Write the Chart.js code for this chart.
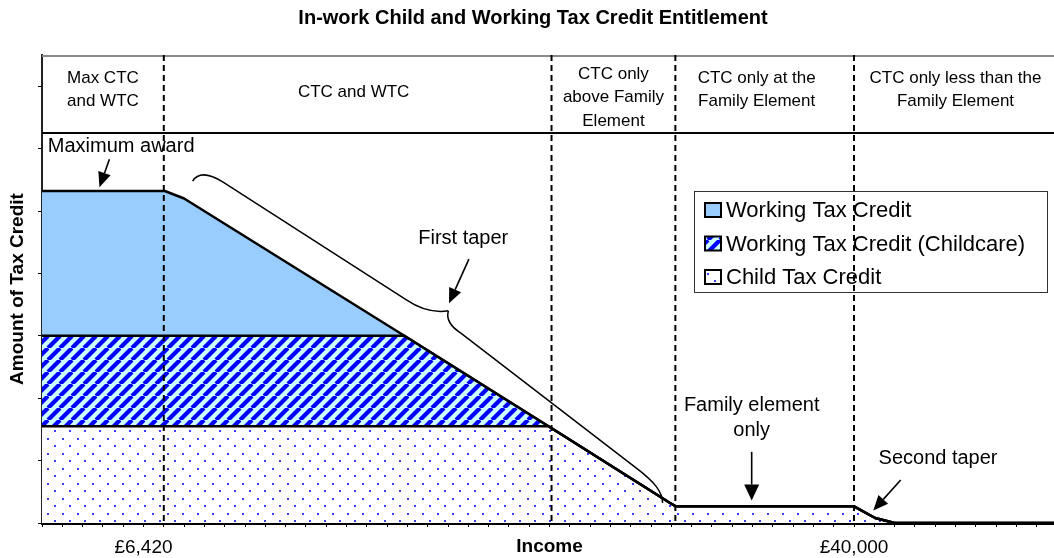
<!DOCTYPE html>
<html>
<head>
<meta charset="utf-8">
<script src="https://cdn.jsdelivr.net/npm/chart.js@4.4.0/dist/chart.umd.min.js"></script>
<style>
	html, body { margin: 0; padding: 0; overflow: hidden; background: #fff; }
	#wrap { width: 1066px; height: 558px; }
</style>
</head>
<body>
<div id="wrap"><canvas id="Chart1" width="1066" height="558"></canvas></div>
<script>
// income axis runs in tick steps, one step per tick mark
const incomePoints     = [0, 6.05, 7.0, 17.85, 24.95, 30.94, 31.2, 39.98, 41.04, 42.0, 50];
const childTaxCredit   = [1.55, 1.55, 1.55, 1.55, 1.55, 0.32, 0.27, 0.27, 0.08, 0, 0];
const childcareCredit  = [1.45, 1.45, 1.45, 1.45, 0, 0, 0, 0, 0, 0, 0];
const workingTaxCredit = [2.32, 2.32, 2.2, 0, 0, 0, 0, 0, 0, 0, 0];

const bandEdges = [0, 6, 25.1, 31.2, 40, 50];
const bandLabels = [
	['Max CTC', 'and WTC'],
	['CTC and WTC'],
	['CTC only', 'above Family', 'Element'],
	['CTC only at the', 'Family Element'],
	['CTC only less than the', 'Family Element']
];
const headerLevel = 6.25;

const xTickPositions = [5, 40];
const xTickLabels = ['£6,420', '£40,000'];

const FONT = "'Liberation Sans', Arial, sans-serif";

const toPoints = vals => incomePoints.map((x, i) => ({ x: x, y: vals[i] }));

// fill patterns
const stripePattern = (() => {
	const c = document.createElement('canvas');
	c.width = 12; c.height = 12;
	const g = c.getContext('2d');
	g.fillStyle = '#ccffff';
	g.fillRect(0, 0, 12, 12);
	g.strokeStyle = '#0000ff';
	g.lineWidth = 4.2;
	[-12, 0, 12].forEach(o => {
		g.beginPath();
		g.moveTo(o, 12);
		g.lineTo(o + 12, 0);
		g.stroke();
	});
	return g.createPattern(c, 'repeat');
})();

const dotPattern = (() => {
	const c = document.createElement('canvas');
	c.width = 15; c.height = 15;
	const g = c.getContext('2d');
	g.fillStyle = '#ffffff';
	g.fillRect(0, 0, 15, 15);
	g.fillStyle = '#3c3cff';
	g.fillRect(2, 3, 2, 2);
	g.fillRect(9, 10, 2, 2);
	return g.createPattern(c, 'repeat');
})();

const drawArrow = (ctx, x1, y1, x2, y2, len, half) => {
	const a = Math.atan2(y2 - y1, x2 - x1);
	const bx = x2 - Math.cos(a) * len, by = y2 - Math.sin(a) * len;
	ctx.beginPath();
	ctx.moveTo(x1, y1);
	ctx.lineTo(bx, by);
	ctx.stroke();
	ctx.beginPath();
	ctx.moveTo(x2, y2);
	ctx.lineTo(bx + Math.sin(a) * half, by - Math.cos(a) * half);
	ctx.lineTo(bx - Math.sin(a) * half, by + Math.cos(a) * half);
	ctx.closePath();
	ctx.fill();
};

const overlay = {
	id: 'overlay',
	afterDatasetsDraw(chart) {
		const { ctx, chartArea: area, scales: { x, y } } = chart;
		const px = v => x.getPixelForValue(v);
		const py = v => y.getPixelForValue(v);
		const hLine = (x1, y1, x2, y2) => { ctx.beginPath(); ctx.moveTo(x1, y1); ctx.lineTo(x2, y2); ctx.stroke(); };
		ctx.save();

		// plot border top and header rule
		ctx.strokeStyle = '#8a8a8a';
		ctx.lineWidth = 2;
		hLine(area.left, area.top + 1, area.right, area.top + 1);
		ctx.strokeStyle = '#000';
		hLine(area.left, py(headerLevel), area.right, py(headerLevel));

		// legend
		const lx = 694, ly = 191, lw = 353, lh = 101;
		ctx.fillStyle = '#fff';
		ctx.fillRect(lx, ly, lw, lh);
		ctx.strokeStyle = '#333';
		ctx.lineWidth = 1;
		ctx.strokeRect(lx + 0.5, ly + 0.5, lw, lh);
		const items = [
			['Working Tax Credit', '#99ccff'],
			['Working Tax Credit (Childcare)', stripePattern],
			['Child Tax Credit', dotPattern]
		];
		ctx.font = '22px ' + FONT;
		ctx.textBaseline = 'middle';
		ctx.textAlign = 'left';
		items.forEach((it, i) => {
			const cy = 210 + i * 33.5;
			ctx.fillStyle = it[1];
			ctx.fillRect(705, cy - 7, 16, 14);
			ctx.strokeStyle = '#000';
			ctx.lineWidth = 2;
			ctx.strokeRect(705, cy - 7, 16, 14);
			ctx.fillStyle = '#000';
			ctx.fillText(it[0], 726, cy + 1);
		});

		// band dividers
		ctx.strokeStyle = '#000';
		ctx.lineWidth = 2;
		ctx.setLineDash([6, 4]);
		bandEdges.slice(1, -1).forEach(b => hLine(px(b), area.top, px(b), area.bottom));
		ctx.setLineDash([]);

		// band headings
		const dx = [0, -4, 0, -8, 0];
		const cyBand = [90, 92, 97.5, 90, 90];
		ctx.font = '17px ' + FONT;
		ctx.textAlign = 'center';
		ctx.fillStyle = '#000';
		bandLabels.forEach((lines, i) => {
			const cx = (px(bandEdges[i]) + px(bandEdges[i + 1])) / 2 + dx[i];
			lines.forEach((t, j) => {
				ctx.fillText(t, cx, cyBand[i] + (j - (lines.length - 1) / 2) * 23.5);
			});
		});

		// annotations
		ctx.font = '20px ' + FONT;
		ctx.fillText('Maximum award', px(3.9), py(6.03));
		ctx.fillText('First taper', px(20.75), py(4.56));
		ctx.fillText('Family element', px(34.96), py(1.89));
		ctx.fillText('only', px(34.96), py(1.49));
		ctx.fillText('Second taper', px(44.14), py(1.04));

		ctx.strokeStyle = '#000';
		ctx.fillStyle = '#000';
		ctx.lineWidth = 1.6;
		drawArrow(ctx, px(3.32), py(5.83), px(2.83), py(5.38), 15, 6.5);
		drawArrow(ctx, px(21.03), py(4.23), px(20.05), py(3.52), 15, 6.5);
		drawArrow(ctx, px(34.96), py(1.14), px(34.96), py(0.36), 16, 7.5);
		drawArrow(ctx, px(42.3), py(0.69), px(40.95), py(0.2), 15, 6.5);

		// brace over the first taper
		const P = (a, b) => [px(a), py(b)];
		ctx.lineWidth = 1.5;
		ctx.beginPath();
		ctx.moveTo(...P(7.42, 5.48));
		ctx.bezierCurveTo(...P(7.71, 5.63), ...P(8.30, 5.59), ...P(8.94, 5.46));
		ctx.lineTo(...P(17.97, 3.57));
		ctx.bezierCurveTo(...P(18.70, 3.41), ...P(19.43, 3.37), ...P(20.02, 3.40));
		ctx.moveTo(...P(20.02, 3.40));
		ctx.bezierCurveTo(...P(19.92, 3.29), ...P(20.02, 3.17), ...P(20.65, 3.04));
		ctx.lineTo(...P(29.20, 0.90));
		ctx.bezierCurveTo(...P(30.18, 0.66), ...P(30.57, 0.50), ...P(30.57, 0.32));
		ctx.stroke();

		ctx.restore();
	}
};

const ctx = document.getElementById('Chart1');
new Chart(ctx, {
	type: 'line',
	data: {
		datasets: [{
			label: 'Child Tax Credit',
			data: toPoints(childTaxCredit),
			fill: 'origin',
			backgroundColor: dotPattern,
			borderColor: '#000',
			borderWidth: 2.5
		}, {
			label: 'Working Tax Credit (Childcare)',
			data: toPoints(childcareCredit),
			fill: '-1',
			backgroundColor: stripePattern,
			borderColor: '#000',
			borderWidth: 2.5
		}, {
			label: 'Working Tax Credit',
			data: toPoints(workingTaxCredit),
			fill: '-1',
			backgroundColor: '#99ccff',
			borderColor: '#000',
			borderWidth: 2.5
		}]
	},
	options: {
		responsive: false,
		animation: false,
		elements: {
			point: { radius: 0 },
			line: { tension: 0, borderJoinStyle: 'round' }
		},
		layout: { padding: 0 },
		plugins: {
			legend: { display: false },
			tooltip: { enabled: false },
			filler: { drawTime: 'beforeDatasetsDraw' },
			title: {
				display: true,
				text: 'In-work Child and Working Tax Credit Entitlement',
				color: '#000',
				font: { family: FONT, size: 20, weight: 'bold' },
				padding: { top: 6, bottom: 25 }
			}
		},
		scales: {
			x: {
				type: 'linear',
				min: 0,
				max: 50,
				afterFit: s => { s.height = 35; },
				ticks: {
					stepSize: 1,
					autoSkip: false,
					maxRotation: 0,
					padding: 9,
					color: '#000',
					font: { family: FONT, size: 19 },
					callback: v => {
						const i = xTickPositions.indexOf(Math.round(v));
						return i >= 0 ? xTickLabels[i] : '';
					}
				},
				grid: { drawOnChartArea: false, tickLength: 4, color: '#000' },
				border: { color: '#000', width: 3 },
				title: {
					display: true,
					text: 'Income',
					color: '#000',
					font: { family: FONT, size: 19, weight: 'bold' },
					padding: 0
				}
			},
			y: {
				min: 0,
				max: 7.5,
				stacked: true,
				afterFit: s => { s.width = 42; },
				ticks: {
					stepSize: 1,
					includeBounds: false,
					callback: () => ''
				},
				grid: { drawOnChartArea: false, tickLength: 4, color: '#000' },
				border: { color: '#222', width: 2 },
				title: {
					display: true,
					text: 'Amount of Tax Credit',
					color: '#000',
					font: { family: FONT, size: 19, weight: 'bold' },
					padding: { top: 6 }
				}
			}
		}
	},
	plugins: [overlay]
});
</script>
</body>
</html>
